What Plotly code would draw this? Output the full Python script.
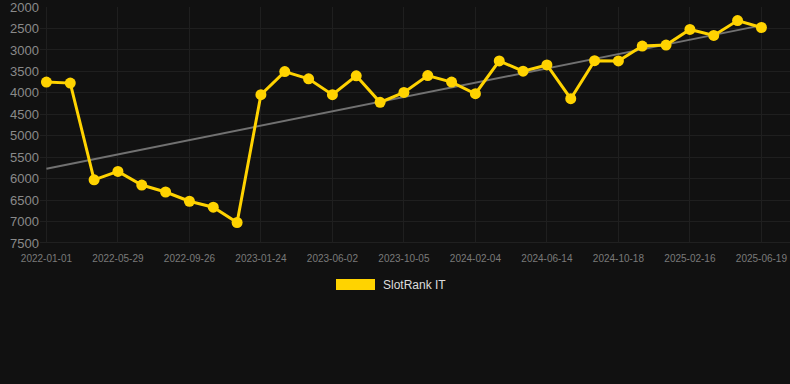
import numpy as np
import plotly.graph_objects as go

# ---- data ----
tick_labels = ["2022-01-01", "2022-05-29", "2022-09-26", "2023-01-24", "2023-06-02",
               "2023-10-05", "2024-02-04", "2024-06-14", "2024-10-18", "2025-02-16",
               "2025-06-19"]
rank_values = [3750, 3773, 6028, 5833, 6150, 6312, 6528, 6667, 7023,
               4044, 3505, 3674, 4044, 3604, 4222, 3991, 3597, 3750, 4021,
               3257, 3495, 3350, 4137, 3250, 3257, 2910, 2887, 2523, 2662,
               2315, 2477]
y_ticks = [2000, 2500, 3000, 3500, 4000, 4500, 5000, 5500, 6000, 6500, 7000, 7500]
series_name = "SlotRank IT"

idx = np.arange(len(rank_values))
slope, intercept = np.polyfit(idx, rank_values, 1)
trend = slope * idx + intercept

W, H = 790, 384
ML, MR, MT, MB = 40, 0, 7, 141
PW, PH = W - ML - MR, H - MT - MB

fig = go.Figure()
fig.add_trace(go.Scatter(
    x=idx, y=trend, mode="lines",
    line=dict(color="#717171", width=2),
    hoverinfo="skip", showlegend=False))
fig.add_trace(go.Scatter(
    x=idx, y=rank_values, mode="lines+markers", name=series_name,
    line=dict(color="#FFD300", width=3),
    marker=dict(color="#FFD300", size=11),
    showlegend=False))

def px_x(p):
    return (p - ML) / PW

def px_y(p):
    return (H - MB - p) / PH

fig.add_shape(type="rect", xref="paper", yref="paper",
              x0=px_x(336), x1=px_x(375), y0=px_y(290), y1=px_y(279),
              fillcolor="#FFD300", line=dict(width=0))
fig.add_annotation(xref="paper", yref="paper", x=px_x(381), y=px_y(285),
                   xanchor="left", yanchor="middle", showarrow=False,
                   text=series_name,
                   font=dict(family="Liberation Sans, Arial, sans-serif", size=12, color="#dddddd"))

tick_idx = list(range(0, len(rank_values), 3))

fig.update_layout(
    width=W, height=H,
    margin=dict(l=ML, r=MR, t=MT, b=MB, pad=0),
    paper_bgcolor="#111111", plot_bgcolor="#111111",
    showlegend=False,
    font=dict(family="Liberation Sans, Arial, sans-serif"),
    xaxis=dict(
        range=[-0.27, 31.2], tickmode="array", tickvals=tick_idx, ticktext=tick_labels,
        showgrid=True, gridcolor="#1f1f1f", gridwidth=1, zeroline=False,
        showline=False, ticks="outside", ticklen=6, tickcolor="rgba(0,0,0,0)",
        tickfont=dict(size=10, color="#7a7a7a"), tickangle=0),
    yaxis=dict(
        range=[7501, 1999], tickmode="array", tickvals=y_ticks,
        showgrid=True, gridcolor="#1f1f1f", gridwidth=1, zeroline=False,
        showline=False, ticks="", ticklabeloverflow="allow",
        tickfont=dict(size=13, color="#8a8a8a")),
)
fig.add_shape(type="line", xref="paper", yref="y", x0=0, x1=1, y0=7500, y1=7500,
              line=dict(color="#2e2e2e", width=1), layer="below")

fig.write_html("out.html")
